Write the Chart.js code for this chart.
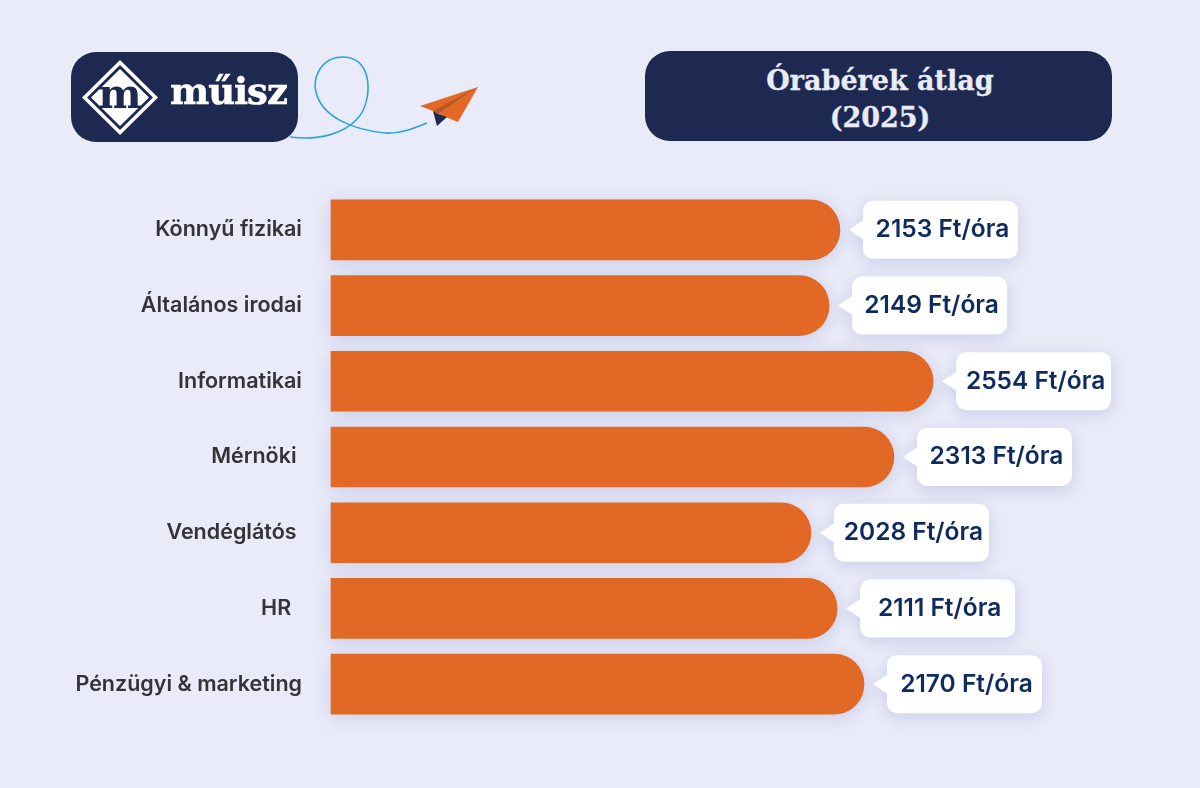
<!DOCTYPE html>
<html lang="hu">
<head>
<meta charset="utf-8">
<title>Órabérek átlag (2025)</title>
<script src="https://cdn.jsdelivr.net/npm/chart.js@4"></script>
<style>
    html, body { margin: 0; padding: 0; background: #E9EBF8; }
    #stage { position: relative; width: 1200px; height: 788px; overflow: hidden; }
    #chart { position: absolute; left: 0; top: 0; }
    #deco { position: absolute; left: 0; top: 0; }
    .logo-box { position: absolute; left: 71px; top: 52px; width: 227px; height: 90px; background: #1D2951; border-radius: 25px; }
    .logo-text { position: absolute; left: 99px; top: 17px; color: #fff; font: 700 37px "DejaVu Serif", serif; letter-spacing: -1px; -webkit-text-stroke: 0.5px #fff; }
    .title-box { position: absolute; left: 645px; top: 51px; width: 467px; height: 90px; background: #1D2951; border-radius: 25px;
        color: #E9EBF8; font: 700 27px/37px "DejaVu Serif", serif; text-align: center; padding: 11px 0 0 3px; box-sizing: border-box; -webkit-text-stroke: 0.3px #E9EBF8; }
</style>
</head>
<body>
<div id="stage">
    <canvas id="chart" width="1200" height="788"></canvas>
    <svg id="deco" width="1200" height="150" viewBox="0 0 1200 150">
        <path d="M290 137 C320 141 345 133 358 118 C372 103 375 57 343 57 C320 57 312 80 316 92 C322 118 355 130 385 133 C400 134 415 128 427 123" fill="none" stroke="#2BA5DE" stroke-width="1.6"/>
        <polygon points="478,87 420,106 433,111 438,114" fill="#E26825"/>
        <polygon points="478,87 438,114 458,122" fill="#E26825"/>
        <polygon points="478,87 433,111 438,114" fill="#B9561F"/>
        <polygon points="433,111 437,126 447,117 438,114" fill="#1D2951"/>
    </svg>
    <div class="logo-box">
        <svg width="100" height="90" style="position:absolute;left:0;top:0">
            <polygon points="49,8 87,45.5 49,83 11,45.5" fill="#fff"/>
            <polygon points="49,13 82,45.5 49,78 16,45.5" fill="#1D2951"/>
            <polygon points="49,17 78,45.5 49,74 20,45.5" fill="#fff"/>
            <text x="49" y="56" text-anchor="middle" fill="#1D2951" font-family="DejaVu Serif" font-weight="700" font-size="41">m</text>
        </svg>
        <div class="logo-text">műisz</div>
    </div>
    <div class="title-box">Órabérek átlag<br>(2025)</div>
</div>
<script>
const categories = ['Könnyű fizikai', 'Általános irodai', 'Informatikai', 'Mérnöki ', 'Vendéglátós ', 'HR  ', 'Pénzügyi & marketing'];
// printed on the callouts
const hourlyRates = [2153, 2149, 2554, 2313, 2028, 2111, 2170];
// the bars in the picture are not quite in proportion to the printed numbers, so read separately
const barLengths = [2158, 2112, 2553, 2387, 2035, 2146, 2260];
const unitLabel = 'Ft/óra';

const ORANGE = '#E26825';
const SHADOW = 'rgba(80, 80, 170, 0.20)';

// soft glow under the bars
const barShadow = {
    id: 'barShadow',
    beforeDatasetsDraw(chart) {
        const ctx = chart.ctx;
        ctx.save();
        ctx.shadowColor = SHADOW;
        ctx.shadowBlur = 18;
        ctx.shadowOffsetY = 3;
    },
    afterDatasetsDraw(chart) {
        chart.ctx.restore();
    }
};

// white speech bubbles next to each bar end
const callouts = {
    id: 'callouts',
    afterDatasetsDraw(chart) {
        const ctx = chart.ctx;
        chart.getDatasetMeta(0).data.forEach((bar, i) => {
            const left = bar.x + 23, w = 155, h = 58, r = 10;
            const top = bar.y - h / 2;
            ctx.save();
            ctx.shadowColor = SHADOW;
            ctx.shadowBlur = 16;
            ctx.shadowOffsetY = 4;
            ctx.fillStyle = '#fff';
            ctx.beginPath();
            ctx.roundRect(left, top, w, h, r);
            ctx.moveTo(left + 1, bar.y + 10);
            ctx.lineTo(left - 14, bar.y);
            ctx.lineTo(left + 1, bar.y - 10);
            ctx.closePath();
            ctx.fill('nonzero');
            ctx.restore();

            ctx.save();
            ctx.fillStyle = '#0F2A5F';
            ctx.font = '600 24.5px Inter, sans-serif';
            ctx.textAlign = 'center';
            ctx.textBaseline = 'middle';
            ctx.fillText(hourlyRates[i] + ' ' + unitLabel, left + w / 2 + 2, bar.y);
            ctx.restore();
        });
    }
};

new Chart(document.getElementById('chart').getContext('2d'), {
    type: 'bar',
    data: {
        labels: categories,
        datasets: [{
            data: barLengths,
            backgroundColor: ORANGE,
            barThickness: 60,
            clip: false,
            borderSkipped: false,
            borderRadius: { topLeft: 0, bottomLeft: 0, topRight: 30, bottomRight: 30 }
        }]
    },
    options: {
        indexAxis: 'y',
        responsive: false,
        animation: false,
        layout: { padding: { top: 192, bottom: 66, right: 20 } },
        plugins: { legend: { display: false }, tooltip: { enabled: false } },
        scales: {
            x: { display: false, min: 0, max: 3600 },
            y: {
                grid: { display: false, drawTicks: false },
                border: { display: false },
                afterFit(scale) { scale.width = 331; },
                ticks: {
                    color: '#333338',
                    padding: 29,
                    font: { family: 'Inter, sans-serif', size: 21.5, weight: '600' }
                }
            }
        }
    },
    plugins: [barShadow, callouts]
});
</script>
</body>
</html>
